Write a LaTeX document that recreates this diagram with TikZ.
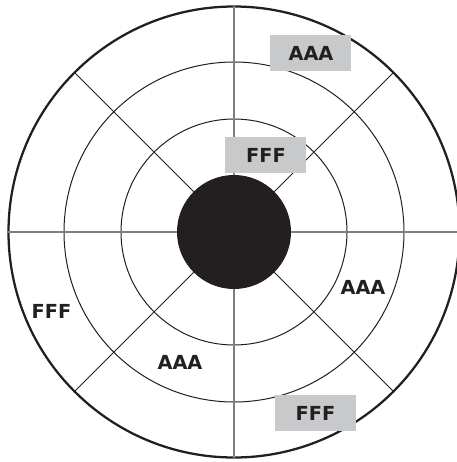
\documentclass[tikz,border=0pt]{standalone}
\usepackage{fontspec}
\setmainfont{DejaVu Sans}[BoldFont={DejaVu Sans Bold}]
\usetikzlibrary{calc}
\definecolor{boxgray}{HTML}{C8C9CB}
\definecolor{ink}{HTML}{231F20}
\definecolor{axisgray}{HTML}{7F7F7F}
\tikzset{
  ring/.style={draw=ink, line width=0.75pt},
  outerring/.style={draw=ink, line width=1.7pt},
  axis/.style={draw=axisgray, line width=1.1pt},
  diag/.style={draw=ink, line width=0.7pt},
  lbl/.style={font=\fontsize{14.5pt}{15pt}\selectfont\bfseries, text=ink, inner sep=0pt},
  tag/.style={lbl, fill=boxgray, minimum width=60.75pt, minimum height=27pt},
}
\begin{document}
\begin{tikzpicture}[x=0.75pt,y=-0.75pt]
\useasboundingbox (0,0) rectangle (457,462);
\coordinate (c) at (234,232);
% rings
\draw[outerring] (c) circle [radius=225.5*0.75pt];
\draw[ring] (c) circle [radius=170*0.75pt];
\draw[ring] (c) circle [radius=113*0.75pt];
% spokes
\coordinate (top) at (234,6);
\coordinate (bot) at (234,458);
\coordinate (lft) at (8,232);
\coordinate (rgt) at (457,232);
\draw[axis] (top) -- (bot);
\draw[axis] (lft) -- (rgt);
\foreach \a in {45,135,225,315}{
  \draw[diag] ($(c)+(\a:57*0.75pt)$) -- ($(c)+(\a:225.5*0.75pt)$);
}
% hub
\fill[ink] (c) circle [radius=57*0.75pt];
% labels
\node[tag] (t1) at (311,53) {AAA};
\node[tag] (t2) at (266,155) {FFF};
\node[tag] (t3) at (315.5,413) {FFF};
\node[lbl] (l1) at (363,287) {AAA};
\node[lbl] (l2) at (51.5,311) {FFF};
\node[lbl] (l3) at (180,362) {AAA};
\end{tikzpicture}
\end{document}
